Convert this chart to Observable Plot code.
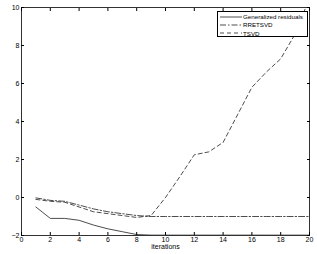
<!DOCTYPE html>
<html><head><meta charset="utf-8">
<script src="https://cdn.jsdelivr.net/npm/d3@7"></script>
<script src="https://cdn.jsdelivr.net/npm/@observablehq/plot@0.6"></script>
<style>
body{margin:0;background:#fff;font-family:"Liberation Sans",Arial,sans-serif;}
#wrap{position:relative;width:317px;height:254px;}
#legend{position:absolute;left:217px;top:11px;width:91px;height:26px;background:#fff;border:1px solid #000;font-size:6.2px;box-sizing:border-box;padding-top:0.5px;}
#legend div{display:flex;align-items:center;height:8.3px;white-space:nowrap;}
#legend svg{margin:0 1px 0 2px;flex:none;}
</style></head><body>
<div id="wrap"></div>
<script>
const iterations = d3.range(1, 21);
const generalized = [-0.5,-1.1,-1.1,-1.2,-1.45,-1.65,-1.8,-1.95,-1.98,-1.98,-1.98,-1.98,-1.98,-1.98,-1.98,-1.98,-1.98,-1.98,-1.98,-1.98];
const rretsvd = [-0.02,-0.15,-0.2,-0.4,-0.6,-0.75,-0.85,-0.95,-1.0,-1.0,-1.0,-1.0,-1.0,-1.0,-1.0,-1.0,-1.0,-1.0,-1.0,-1.0];
const tsvd = [-0.1,-0.2,-0.25,-0.5,-0.75,-0.85,-0.95,-1.05,-0.95,0.0,1.1,2.25,2.4,2.9,4.35,5.8,6.6,7.3,8.6,10.5];
const seriesNames = ["Generalized residuals","RRETSVD","TSVD"];
const seriesDash = ["none","6,2,1.5,2","4,3"];
const xTicks = d3.range(0, 21, 2);
const yTicks = d3.range(-2, 11, 2);

const table = (vals) => iterations.map((x, i) => ({x, y: vals[i]}));
const lineStyle = {x:"x", y:"y", stroke:"#000", strokeWidth:0.7, clip:true};

const plot = Plot.plot({
  width: 317, height: 254,
  marginLeft: 21, marginRight: 8, marginTop: 7, marginBottom: 19,
  style: {fontFamily: '"Liberation Sans",Arial,sans-serif', fontSize: "7px", background:"#fff"},
  x: {domain:[0,20], ticks: xTicks},
  y: {domain:[-2,10], ticks: yTicks},
  marks: [
    Plot.frame({stroke:"#000", strokeWidth:0.8}),
    Plot.axisX({ticks: xTicks, tickSize: -3, tickPadding: 5, label: null}),
    Plot.axisX({ticks: xTicks, anchor:"top", tickSize: -3, tickFormat: () => "", label: null}),
    Plot.axisY({ticks: yTicks, tickSize: -3, tickPadding: 5, label: null}),
    Plot.axisY({ticks: yTicks, anchor:"right", tickSize: -3, tickFormat: () => "", label: null}),
    Plot.text(["iterations"], {frameAnchor:"bottom", dy: 13, fontSize: 7}),
    Plot.line(table(generalized), {...lineStyle, strokeDasharray: seriesDash[0]}),
    Plot.line(table(rretsvd), {...lineStyle, strokeDasharray: seriesDash[1]}),
    Plot.line(table(tsvd), {...lineStyle, strokeDasharray: seriesDash[2]})
  ]
});
const wrap = document.getElementById("wrap");
wrap.appendChild(plot);
const leg = document.createElement("div");
leg.id = "legend";
seriesNames.forEach((name, i) => {
  const row = document.createElement("div");
  row.innerHTML = `<svg width="22" height="4"><line x1="0" y1="2" x2="22" y2="2" stroke="#000" stroke-width="0.7" stroke-dasharray="${seriesDash[i]}"/></svg><span>${name}</span>`;
  leg.appendChild(row);
});
wrap.appendChild(leg);
</script>
</body></html>
